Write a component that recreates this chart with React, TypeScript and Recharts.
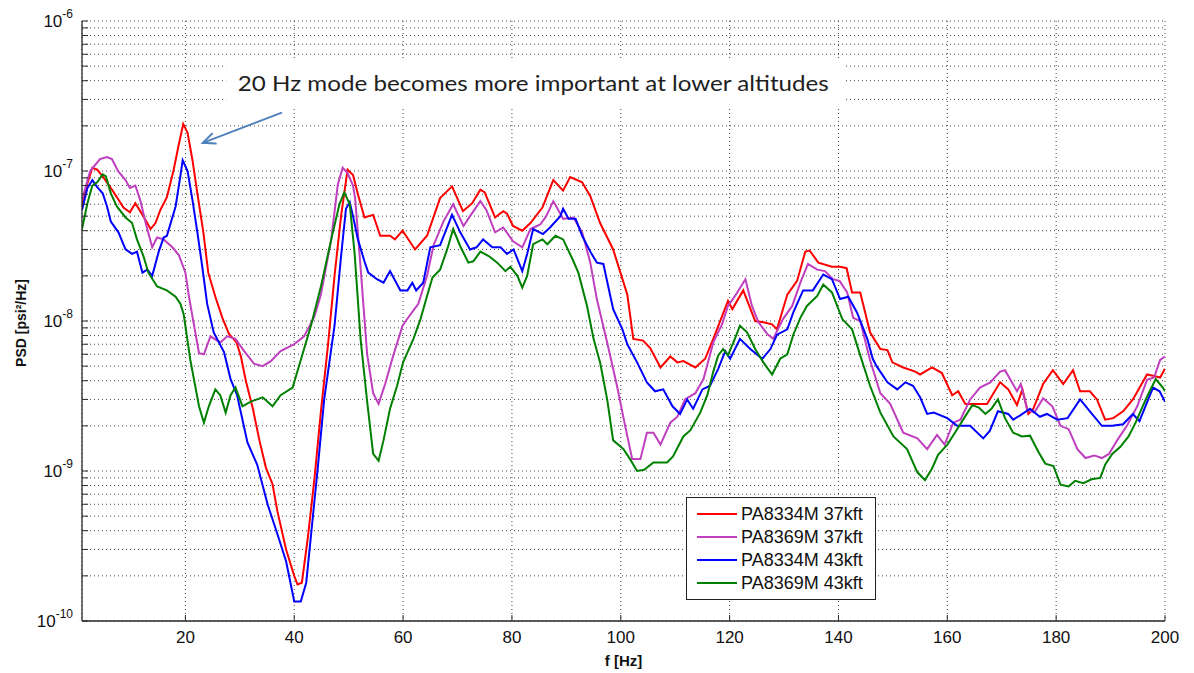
import React from 'react';
import {
  LineChart,
  Line,
  XAxis,
  YAxis,
  CartesianGrid,
  Legend,
  ReferenceArea,
  ReferenceLine,
} from 'recharts';

// ── Data: [frequency Hz, PSD psi²/Hz] ───────────────────────

const pa8334m37kft: [number, number][] = [
  [1, 5.8e-8], [2, 8.3e-8], [2.9, 1.05e-7], [3.8, 1.02e-7], [5, 9e-8], [6.3, 7.7e-8], [7.4, 6.7e-8],
  [8.6, 5.7e-8], [9.8, 5.3e-8], [10.8, 6.1e-8], [11.7, 5.4e-8], [12.7, 4.7e-8], [13.6, 4.1e-8],
  [14.5, 4.5e-8], [15.4, 5.5e-8], [16.6, 6.7e-8], [17.8, 1e-7], [18.7, 1.45e-7], [19.6, 2.06e-7],
  [20.4, 1.8e-7], [21.3, 1.18e-7], [22.2, 7.1e-8], [23.3, 3.9e-8], [24.2, 2.1e-8], [25.5, 1.45e-8],
  [26.8, 1.05e-8], [28, 8.2e-9], [29.4, 7.2e-9], [30.2, 5.8e-9], [31.1, 4e-9], [32.4, 2.6e-9],
  [33.6, 1.6e-9], [34.8, 1.05e-9], [36, 8.2e-10], [36.9, 5.4e-10], [38.5, 3e-10], [40, 2e-10],
  [40.6, 1.75e-10], [41.4, 1.8e-10], [42.5, 3.6e-10], [43.7, 8.8e-10], [44.9, 2.5e-9], [46.2, 6.9e-9],
  [47.4, 2e-8], [48.6, 5e-8], [49.8, 1.02e-7], [50.8, 9.4e-8], [51.7, 7e-8], [52.9, 4.9e-8],
  [54.5, 5.1e-8], [55.8, 3.7e-8], [57.6, 3.7e-8], [58.5, 3.5e-8], [59.9, 4e-8], [62.2, 3e-8],
  [64.4, 3.7e-8], [66.8, 6.6e-8], [69, 7.9e-8], [71, 5.4e-8], [72.7, 6.1e-8], [74.2, 7.5e-8],
  [75, 7.2e-8], [76.9, 4.9e-8], [78.4, 5.4e-8], [79.1, 5.2e-8], [80.2, 4.3e-8], [81.9, 4e-8],
  [83.4, 4.5e-8], [85.6, 5.7e-8], [87.6, 8.7e-8], [89.4, 7.4e-8], [90.7, 9.1e-8], [92.9, 8.4e-8],
  [94.4, 6.8e-8], [96.2, 4.5e-8], [98.6, 3e-8], [101.2, 1.5e-8], [102.3, 7.6e-9], [104.1, 7.4e-9],
  [105.4, 6.6e-9], [107.3, 4.9e-9], [109.1, 5.8e-9], [110.4, 5.3e-9], [111.5, 5.4e-9], [113.7, 4.9e-9],
  [115.5, 5.6e-9], [117, 7.6e-9], [119.7, 1.36e-8], [120.5, 1.2e-8], [122.5, 1.6e-8], [124.7, 1e-8],
  [126.2, 9.8e-9], [127.8, 9.5e-9], [128.7, 8.8e-9], [130.6, 1.5e-8], [132.4, 1.85e-8], [133.9, 2.9e-8],
  [134.7, 2.95e-8], [136.3, 2.45e-8], [138.8, 2.3e-8], [140.3, 2.3e-8], [141.5, 2.25e-8], [142.5, 1.55e-8],
  [144, 1.55e-8], [145.8, 8.4e-9], [147.7, 6.5e-9], [149, 6.4e-9], [149.9, 5.3e-9], [151.9, 4.9e-9],
  [154.1, 4.6e-9], [155, 4.4e-9], [157.2, 4.9e-9], [159, 4.5e-9], [160.9, 3.2e-9], [162, 3.4e-9],
  [163.3, 2.8e-9], [167.3, 2.8e-9], [169.7, 3.9e-9], [171.2, 3.5e-9], [172.8, 2.75e-9], [173.8, 3.5e-9],
  [174.9, 2.4e-9], [175.8, 2.6e-9], [177.6, 3.8e-9], [179.4, 4.7e-9], [181.3, 3.8e-9], [183.1, 4.7e-9],
  [184.4, 3.4e-9], [186.2, 3.4e-9], [187.5, 3e-9], [189, 2.2e-9], [190.5, 2.25e-9], [192.3, 2.5e-9],
  [194.1, 3e-9], [196.7, 4.4e-9], [198, 4.3e-9], [199.1, 4.2e-9], [200, 4.8e-9],
];

const pa8369m37kft: [number, number][] = [
  [1, 6.4e-8], [2.5, 1e-7], [4.3, 1.2e-7], [5.6, 1.24e-7], [6.5, 1.2e-7], [7.6, 1e-7], [9, 8.7e-8],
  [9.8, 7.7e-8], [10.8, 8e-8], [11.7, 6.4e-8], [12.7, 4.5e-8], [13.9, 3.1e-8], [14.8, 3.6e-8],
  [16, 3.5e-8], [17.6, 3.1e-8], [18.8, 2.75e-8], [20, 2.1e-8], [20.6, 1.5e-8], [21.3, 1.07e-8],
  [22.5, 6.1e-9], [23.4, 6e-9], [24.6, 7.9e-9], [26.4, 7.2e-9], [27.7, 7.9e-9], [29.2, 7.6e-9],
  [30.8, 6.3e-9], [32.6, 5.2e-9], [34.2, 5e-9], [35.7, 5.4e-9], [37.5, 6.3e-9], [40, 7e-9],
  [41.8, 7.9e-9], [43.7, 1.07e-8], [44.9, 1.5e-8], [46.8, 3.5e-8], [48, 8.1e-8], [48.9, 1.05e-7],
  [49.8, 9.7e-8], [50.8, 8e-8], [51.2, 6.5e-8], [52.1, 2.5e-8], [53.4, 6e-9], [54.5, 3.3e-9],
  [55.5, 2.8e-9], [56.7, 3.8e-9], [58.2, 5.9e-9], [59.9, 9.3e-9], [61.3, 1.1e-8], [62.8, 1.3e-8],
  [64.4, 2e-8], [65.6, 3.2e-8], [67.4, 4.6e-8], [69.2, 6e-8], [71.1, 4.3e-8], [72.3, 5e-8],
  [74.2, 6.3e-8], [75.3, 5.5e-8], [76.9, 3.9e-8], [78.4, 4.2e-8], [80.2, 3.4e-8], [81.9, 3.1e-8],
  [83.4, 4.1e-8], [85.2, 4.4e-8], [86.3, 5e-8], [87.6, 6.3e-8], [89.4, 4.8e-8], [91.3, 4.9e-8],
  [92.9, 3.9e-8], [94.4, 2.45e-8], [95.6, 1.4e-8], [97.5, 7.2e-9], [99.3, 3.7e-9], [100.8, 2e-9],
  [102.1, 1.2e-9], [103.6, 1.2e-9], [104.8, 1.8e-9], [106, 1.8e-9], [107.3, 1.5e-9], [109.1, 2.1e-9],
  [110.4, 2.3e-9], [111.8, 3e-9], [113.7, 3.3e-9], [115.2, 4.1e-9], [117, 7.2e-9], [118.6, 9.5e-9],
  [119.7, 1.26e-8], [121, 1.47e-8], [122.9, 1.9e-8], [124.1, 1.26e-8], [125.3, 9.8e-9], [126.9, 8.2e-9],
  [128, 7.6e-9], [129.8, 1.03e-8], [131.5, 1.26e-8], [133, 1.8e-8], [134.4, 2.4e-8], [136.1, 2.2e-8],
  [137.5, 2.15e-8], [139, 1.9e-8], [140.2, 1.85e-8], [141.6, 1.55e-8], [142.7, 1.05e-8], [144, 1e-8],
  [145.8, 5.5e-9], [147.7, 3.3e-9], [149.5, 2.8e-9], [151.9, 1.8e-9], [154.5, 1.65e-9], [156.3, 1.4e-9],
  [158.1, 1.74e-9], [159.5, 1.5e-9], [161.1, 2.1e-9], [162.4, 2.2e-9], [164.2, 3e-9], [166, 3.6e-9],
  [167.9, 3.9e-9], [169.7, 4.6e-9], [170.6, 4.7e-9], [172.8, 3.4e-9], [173.5, 3.8e-9], [174.7, 2.55e-9],
  [176, 2.45e-9], [177.6, 3.05e-9], [179.3, 2.7e-9], [180.8, 2e-9], [182.3, 1.9e-9], [183.9, 1.4e-9],
  [185.4, 1.22e-9], [187, 1.27e-9], [188.4, 1.22e-9], [189.7, 1.3e-9], [191.2, 1.6e-9], [193, 2e-9],
  [194.9, 2.7e-9], [196.7, 4.05e-9], [198, 4.2e-9], [199.1, 5.5e-9], [200, 5.8e-9],
];

const pa8334m43kft: [number, number][] = [
  [1, 5.5e-8], [2, 7.7e-8], [2.9, 8.7e-8], [3.8, 7.8e-8], [4.8, 7.1e-8], [5.6, 5.8e-8], [6.3, 4.6e-8],
  [7.7, 3.9e-8], [9, 3e-8], [10.2, 2.8e-8], [11.1, 2.9e-8], [12.1, 2.1e-8], [13, 2.2e-8], [13.9, 2e-8],
  [15.1, 2.9e-8], [16, 3.6e-8], [16.6, 3.7e-8], [18.2, 5.8e-8], [19.1, 9.4e-8], [19.5, 1.18e-7],
  [20.4, 1e-7], [21.3, 6.4e-8], [22.2, 3.9e-8], [23.1, 2.3e-8], [24, 1.3e-8], [25.2, 8.4e-9],
  [27.1, 6.2e-9], [28.3, 4.1e-9], [29.5, 3.2e-9], [31.4, 1.55e-9], [33.2, 1.1e-9], [35.1, 6e-10],
  [36.9, 3.8e-10], [38.5, 2.5e-10], [40, 1.35e-10], [41.2, 1.35e-10], [42.2, 1.8e-10], [43.1, 3.8e-10],
  [44.3, 1.03e-9], [45.5, 3e-9], [47.4, 9.3e-9], [48.6, 2.7e-8], [49.5, 5.6e-8], [50.2, 6.2e-8],
  [50.8, 5e-8], [51.7, 3.5e-8], [52.9, 2.5e-8], [53.6, 2.1e-8], [55.2, 1.9e-8], [56.4, 1.8e-8],
  [57.6, 2.15e-8], [59.5, 1.6e-8], [60.8, 1.6e-8], [61.7, 1.8e-8], [62.4, 1.6e-8], [63.7, 1.8e-8],
  [65, 3.1e-8], [66.8, 3.2e-8], [69, 5.1e-8], [70.5, 3.9e-8], [72.3, 3e-8], [73.5, 3.1e-8],
  [74.7, 3.5e-8], [76.4, 3.1e-8], [77.9, 3.1e-8], [79.1, 2.8e-8], [80.3, 3e-8], [81.9, 2.15e-8],
  [82.8, 2.8e-8], [83.9, 4.1e-8], [85.7, 3.8e-8], [87, 4.2e-8], [88.9, 5e-8], [89.4, 5.6e-8],
  [90.4, 4.8e-8], [91.7, 4.8e-8], [92.9, 3.7e-8], [94.4, 2.9e-8], [95.6, 2.45e-8], [96.8, 2.4e-8],
  [98.6, 1.2e-8], [100.3, 8.8e-9], [101.2, 7e-9], [103, 5.3e-9], [104.8, 3.9e-9], [106.3, 3.4e-9],
  [107.8, 3.5e-9], [109.5, 2.7e-9], [110.9, 2.4e-9], [112.2, 3e-9], [113.3, 2.6e-9], [115, 3.5e-9],
  [116.4, 3.7e-9], [117.9, 4.8e-9], [119.2, 6.3e-9], [120.1, 5.6e-9], [121.9, 7.6e-9], [123.8, 6.5e-9],
  [126, 5.6e-9], [127.5, 6.5e-9], [128.7, 8.1e-9], [130.6, 8.8e-9], [131.7, 1.14e-8], [133.5, 1.6e-8],
  [135.3, 1.6e-8], [137.2, 2.04e-8], [138.8, 1.9e-8], [140.3, 1.4e-8], [141.8, 1.45e-8], [143.4, 1.14e-8],
  [145.3, 7.6e-9], [146.3, 5.6e-9], [147, 5e-9], [149, 3.9e-9], [150.8, 3.5e-9], [152.3, 3.9e-9],
  [153.7, 3.7e-9], [155, 3.1e-9], [156.3, 2.4e-9], [157.5, 2.45e-9], [160, 2.25e-9], [161.8, 2e-9],
  [164.2, 2e-9], [166.6, 1.65e-9], [167.8, 1.85e-9], [169.3, 2.5e-9], [171.2, 2.4e-9], [172.1, 2.2e-9],
  [173.4, 2.35e-9], [175.2, 2.6e-9], [177, 2.3e-9], [178.3, 2.4e-9], [180.2, 2.2e-9], [182.1, 2.25e-9],
  [184.4, 3e-9], [186.2, 2.5e-9], [188.4, 2e-9], [190.3, 2e-9], [192.3, 2.05e-9], [194.1, 2.4e-9],
  [195.3, 2.15e-9], [197.8, 3.6e-9], [199, 3.4e-9], [200, 2.9e-9],
];

const pa8369m43kft: [number, number][] = [
  [1, 4.1e-8], [2, 6.1e-8], [2.9, 8e-8], [3.8, 8.4e-8], [4.8, 9.5e-8], [5.4, 9.2e-8], [6.3, 7.1e-8],
  [7.4, 5.8e-8], [9, 4.9e-8], [10.2, 4.5e-8], [11.1, 3.5e-8], [12.3, 2.7e-8], [13.2, 2.1e-8],
  [14.8, 1.7e-8], [16.6, 1.6e-8], [18.2, 1.45e-8], [19.1, 1.3e-8], [19.7, 1.1e-8], [20.9, 5.5e-9],
  [22.5, 2.7e-9], [23.4, 2.1e-9], [24.3, 2.7e-9], [25.5, 3.5e-9], [26.4, 3.2e-9], [27.4, 2.45e-9],
  [28.3, 3.2e-9], [29.2, 3.6e-9], [30.5, 2.7e-9], [32, 2.9e-9], [34.2, 3.1e-9], [36, 2.7e-9],
  [37.5, 3.2e-9], [39.7, 3.6e-9], [41.2, 5.5e-9], [43.1, 9.4e-9], [44.9, 1.7e-8], [46.8, 3.5e-8],
  [48.3, 6e-8], [49.2, 7.2e-8], [50.2, 6e-8], [51.1, 2.8e-8], [52.2, 7.5e-9], [53.4, 2.9e-9],
  [54.5, 1.3e-9], [55.5, 1.17e-9], [56.4, 1.6e-9], [57.6, 2.6e-9], [58.9, 3.7e-9], [60, 5.3e-9],
  [61.9, 7.6e-9], [63.2, 1.03e-8], [64.4, 1.47e-8], [65.4, 1.95e-8], [66.8, 2.2e-8], [68.1, 3e-8],
  [69.2, 4.1e-8], [70.5, 3.15e-8], [72, 2.45e-8], [72.9, 2.5e-8], [74.2, 2.9e-8], [75.8, 2.7e-8],
  [77.3, 2.45e-8], [78.8, 2.15e-8], [79.7, 2.3e-8], [81, 2e-8], [81.9, 1.67e-8], [82.8, 2e-8],
  [83.9, 3.25e-8], [85.6, 3.5e-8], [86.5, 3.25e-8], [88, 3.7e-8], [89.4, 3.5e-8], [91.1, 2.6e-8],
  [92.2, 2.1e-8], [93.8, 1.26e-8], [95, 7.6e-9], [96.2, 5.3e-9], [97.5, 3e-9], [98.6, 1.6e-9],
  [100.5, 1.4e-9], [101.7, 1.2e-9], [103, 1e-9], [104.3, 1.02e-9], [106, 1.14e-9], [108.5, 1.14e-9],
  [109.6, 1.25e-9], [111.5, 1.7e-9], [112.8, 1.87e-9], [114.6, 2.45e-9], [115.9, 3.2e-9], [117, 4.6e-9],
  [117.9, 5.9e-9], [118.8, 6.5e-9], [119.7, 5.9e-9], [120.7, 7.2e-9], [121.9, 9.3e-9], [123.2, 8.4e-9],
  [124.7, 6.5e-9], [126.2, 5.3e-9], [127.8, 4.4e-9], [129.3, 5.6e-9], [130.6, 6e-9], [131.7, 8.1e-9],
  [133, 1.05e-8], [134.2, 1.26e-8], [136.1, 1.47e-8], [137.2, 1.75e-8], [138.8, 1.55e-8], [140.7, 1.03e-8],
  [142.5, 8.8e-9], [144, 5.9e-9], [145.8, 3.7e-9], [147.7, 2.45e-9], [150.1, 1.7e-9], [152.6, 1.4e-9],
  [154.5, 9.8e-10], [155.9, 8.7e-10], [157.2, 1.04e-9], [158.3, 1.28e-9], [160, 1.5e-9], [161.4, 1.8e-9],
  [162.9, 2.2e-9], [164.6, 2.75e-9], [165.8, 2.65e-9], [167, 2.4e-9], [168.1, 2.6e-9], [169.3, 3e-9],
  [170.6, 2.25e-9], [172.1, 1.8e-9], [173.7, 1.7e-9], [175.2, 1.72e-9], [176.7, 1.35e-9], [178, 1.12e-9],
  [179.5, 1.08e-9], [180.8, 8.1e-10], [182.3, 7.9e-10], [183.5, 8.6e-10], [185, 8.3e-10], [186.5, 8.8e-10],
  [188.1, 9e-10], [189, 1.1e-9], [190.3, 1.3e-9], [191.8, 1.45e-9], [193.3, 1.7e-9], [194.6, 2.1e-9],
  [195.9, 2.7e-9], [197, 3.3e-9], [198.3, 4.1e-9], [199.6, 3.6e-9], [200, 3.4e-9],
];

// ── Axes ────────────────────────────────────────────────────

const X_TICKS = [20, 40, 60, 80, 100, 120, 140, 160, 180, 200];

// every decade plus its 2..9 minor steps
const Y_TICKS: number[] = [];
for (let e = -10; e < -6; e++) {
  for (let m = 1; m < 10; m++) Y_TICKS.push(m * Math.pow(10, e));
}
Y_TICKS.push(1e-6);

const ANNOTATION = '20 Hz mode becomes more important at lower altitudes';

const FONT = '"Liberation Sans", Arial, Helvetica, sans-serif';
const AXIS_COLOR = '#2a2a2a';

const SERIES = [
  {name: 'PA8334M 37kft', color: '#ff0000', points: pa8334m37kft},
  {name: 'PA8369M 37kft', color: '#bf3fbf', points: pa8369m37kft},
  {name: 'PA8334M 43kft', color: '#0000ff', points: pa8334m43kft},
  {name: 'PA8369M 43kft', color: '#008000', points: pa8369m43kft},
];

const toRows = (pts: [number, number][]) => pts.map(([f, psd]) => ({f, psd}));

// ── Ticks and labels ────────────────────────────────────────

function YTick({x, y, payload}: any) {
  const lg = Math.log10(payload.value);
  const exp = Math.round(lg);
  const major = Math.abs(lg - exp) < 1e-6;
  return (
    <g>
      <line x1={x} x2={x + 6} y1={y} y2={y} stroke={AXIS_COLOR} strokeWidth={1} />
      {major && (
        <text x={x - 9} y={y + 6} textAnchor="end" fontSize={17} fontFamily={FONT} fill="#111">
          10
          <tspan dy={-9} fontSize={12}>
            {exp}
          </tspan>
        </text>
      )}
    </g>
  );
}

function XTick({x, y, payload}: any) {
  return (
    <g>
      <line x1={x} x2={x} y1={y} y2={y - 6} stroke={AXIS_COLOR} strokeWidth={1} />
      <text x={x} y={y + 22} textAnchor="middle" fontSize={17} fontFamily={FONT} fill="#111">
        {payload.value}
      </text>
    </g>
  );
}

function XLabel({viewBox}: any) {
  return (
    <text
      x={viewBox.x + viewBox.width / 2}
      y={viewBox.y + 45}
      textAnchor="middle"
      fontSize={15}
      fontWeight="bold"
      fontFamily={FONT}
      fill="#111"
    >
      f [Hz]
    </text>
  );
}

function YLabel({viewBox}: any) {
  const cx = viewBox.x + 21;
  const cy = viewBox.y + viewBox.height / 2 + 2;
  return (
    <text
      x={cx}
      y={cy}
      transform={`rotate(-90 ${cx} ${cy})`}
      textAnchor="middle"
      dominantBaseline="central"
      fontSize={14}
      fontWeight="bold"
      fontFamily={FONT}
      fill="#111"
    >
      PSD [psi²/Hz]
    </text>
  );
}

// white text box over the upper grid
function AnnotationText({viewBox}: any) {
  return (
    <text
      x={viewBox.x + viewBox.width / 2 - 2}
      y={viewBox.y + 33}
      textAnchor="middle"
      fontSize={22}
      fontFamily="Lato, 'Open Sans', sans-serif"
      fill="#1e1e1e"
      textLength={591}
      lengthAdjust="spacingAndGlyphs"
    >
      {ANNOTATION}
    </text>
  );
}

function Arrow({x1, y1, x2, y2}: any) {
  const ang = Math.atan2(y1 - y2, x1 - x2);
  const len = 13;
  const spread = 0.42;
  const hx1 = x2 + len * Math.cos(ang + spread);
  const hy1 = y2 + len * Math.sin(ang + spread);
  const hx2 = x2 + len * Math.cos(ang - spread);
  const hy2 = y2 + len * Math.sin(ang - spread);
  return (
    <g stroke="#4f81bd" strokeWidth={2} fill="none" strokeLinecap="round">
      <line x1={x1} y1={y1} x2={x2} y2={y2} />
      <polyline points={`${hx1},${hy1} ${x2},${y2} ${hx2},${hy2}`} />
    </g>
  );
}

// entries listed in plotting order
function LegendBox() {
  return (
    <div style={{width: 190, height: 103, boxSizing: 'border-box', border: '1px solid #222', background: '#fff'}}>
      <svg width={188} height={101}>
        {SERIES.map((s, i) => (
          <g key={s.name}>
            <line x1={10} x2={50} y1={16 + i * 23} y2={16 + i * 23} stroke={s.color} strokeWidth={2} />
            <text x={54} y={22 + i * 23} fontSize={18} fontFamily={FONT} fill="#111">
              {s.name}
            </text>
          </g>
        ))}
      </svg>
    </div>
  );
}

// ── Chart ───────────────────────────────────────────────────

export default function App() {
  return (
    <div style={{position: 'absolute', left: 0, top: 0, width: 1194, height: 673, background: '#fff'}}>
      <LineChart width={1194} height={673} margin={{top: 21, right: 29, bottom: 0, left: 0}}>
        <CartesianGrid stroke="#444" strokeDasharray="1 3" strokeWidth={1} />
        <XAxis
          dataKey="f"
          type="number"
          domain={[1, 200]}
          allowDataOverflow
          ticks={X_TICKS}
          height={52}
          tickSize={0}
          tickMargin={0}
          tickLine={false}
          tick={<XTick />}
          axisLine={{stroke: AXIS_COLOR, strokeWidth: 1.3}}
          label={<XLabel />}
        />
        <YAxis
          dataKey="psd"
          type="number"
          scale="log"
          domain={[1e-10, 1e-6]}
          allowDataOverflow
          ticks={Y_TICKS}
          interval={0}
          width={82}
          tickSize={0}
          tickMargin={0}
          tickLine={false}
          tick={<YTick />}
          axisLine={{stroke: AXIS_COLOR, strokeWidth: 1.3}}
          label={<YLabel />}
        />
        <ReferenceArea
          x1={27.5}
          x2={141.1}
          y1={2.63e-7}
          y2={5.67e-7}
          fill="#ffffff"
          fillOpacity={1}
          stroke="none"
          label={<AnnotationText />}
        />
        <ReferenceLine
          segment={[
            {x: 37.6, y: 2.44e-7},
            {x: 23.2, y: 1.54e-7},
          ]}
          shape={<Arrow />}
        />
        {SERIES.map((s) => (
          <Line
            key={s.name}
            name={s.name}
            data={toRows(s.points)}
            dataKey="psd"
            type="linear"
            stroke={s.color}
            strokeWidth={2}
            dot={false}
            isAnimationActive={false}
          />
        ))}
        <Legend
          layout="horizontal"
          verticalAlign="middle"
          align="center"
          content={<LegendBox />}
          wrapperStyle={{position: 'absolute', left: 686, top: 497, width: 190, height: 103}}
        />
      </LineChart>
    </div>
  );
}
